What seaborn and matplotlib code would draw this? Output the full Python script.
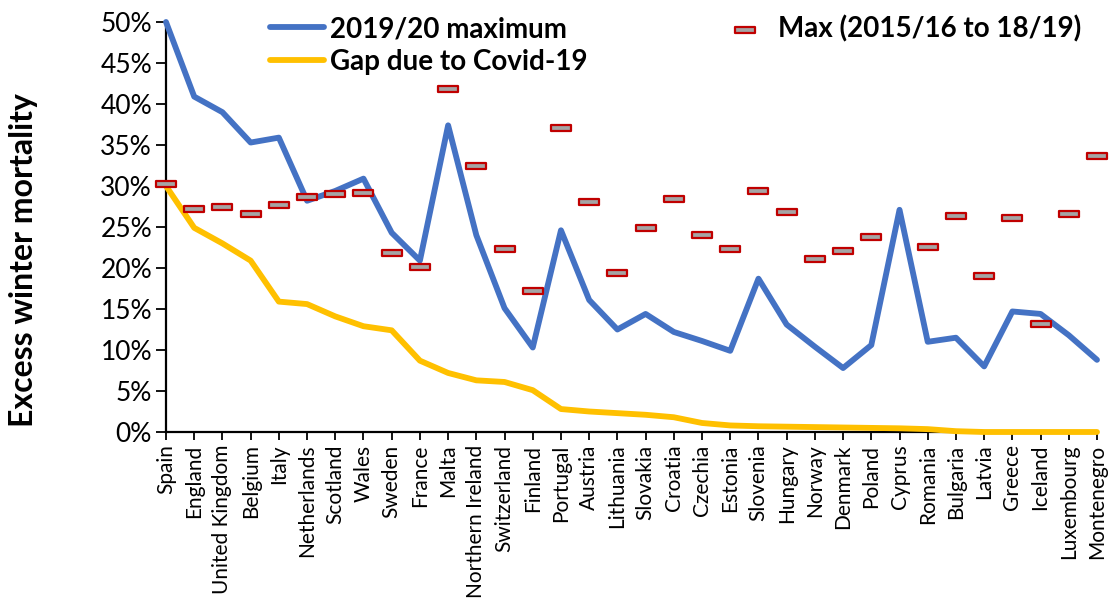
import numpy as np
import pandas as pd
import seaborn as sns
import matplotlib.pyplot as plt
from matplotlib.path import Path
from matplotlib.ticker import PercentFormatter

countries = ["Spain", "England", "United Kingdom", "Belgium", "Italy", "Netherlands",
             "Scotland", "Wales", "Sweden", "France", "Malta", "Northern Ireland",
             "Switzerland", "Finland", "Portugal", "Austria", "Lithuania", "Slovakia",
             "Croatia", "Czechia", "Estonia", "Slovenia", "Hungary", "Norway",
             "Denmark", "Poland", "Cyprus", "Romania", "Bulgaria", "Latvia",
             "Greece", "Iceland", "Luxembourg", "Montenegro"]

# 2019/20 maximum (%)
max_2019_20 = [50.0, 40.9, 39.0, 35.3, 35.9, 28.2, 29.4, 30.9, 24.3, 20.9, 37.4, 24.0,
               15.1, 10.3, 24.6, 16.1, 12.5, 14.4, 12.2, 11.1, 9.9, 18.7, 13.1, 10.4,
               7.8, 10.6, 27.1, 11.0, 11.5, 8.0, 14.7, 14.4, 11.8, 8.8]

# Gap due to Covid-19 (%)
covid_gap = [30.0, 24.9, 23.0, 20.9, 15.9, 15.6, 14.1, 12.9, 12.4, 8.7, 7.2, 6.3,
             6.1, 5.1, 2.8, 2.5, 2.3, 2.1, 1.8, 1.1, 0.8, 0.7, 0.65, 0.6,
             0.55, 0.5, 0.45, 0.35, 0.1, 0.0, 0.0, 0.0, 0.0, 0.0]

# Max (2015/16 to 18/19) (%), no value for Cyprus
max_prev = [30.3, 27.2, 27.5, 26.6, 27.7, 28.7, 29.0, 29.2, 21.8, 20.1, 41.8, 32.5,
            22.3, 17.2, 37.1, 28.1, 19.4, 24.9, 28.4, 24.0, 22.3, 29.4, 26.8, 21.1,
            22.1, 23.8, np.nan, 22.6, 26.4, 19.0, 26.1, 13.2, 26.6, 33.7]

df = pd.DataFrame({
    "pos": np.arange(len(countries)),
    "country": countries,
    "max_2019_20": np.array(max_2019_20) / 100,
    "covid_gap": np.array(covid_gap) / 100,
    "max_prev": np.array(max_prev) / 100,
})

sns.set_style("white")
plt.rcParams["font.family"] = ["Lato", "DejaVu Sans"]
plt.rcParams.update({"text.color": "black", "axes.labelcolor": "black",
                     "xtick.color": "black", "ytick.color": "black"})

fig = plt.figure(figsize=(11.12, 6.12), dpi=100)
ax = fig.add_axes([166 / 1112, 1 - 432 / 612, (1097 - 166) / 1112, 410 / 612])

blue = "#4472C4"
gold = "#FFC000"

sns.lineplot(data=df, x="pos", y="max_2019_20", ax=ax, color=blue, linewidth=4.2,
             sort=False, label="2019/20 maximum", clip_on=False, zorder=3)
sns.lineplot(data=df, x="pos", y="covid_gap", ax=ax, color=gold, linewidth=4.2,
             sort=False, label="Gap due to Covid-19", clip_on=False, zorder=3)

# flat rectangle marker (grey with red border)
rect = Path([(-1, -0.26), (1, -0.26), (1, 0.26), (-1, 0.26), (-1, -0.26)],
            [Path.MOVETO, Path.LINETO, Path.LINETO, Path.LINETO, Path.CLOSEPOLY])
sns.scatterplot(data=df, x="pos", y="max_prev", ax=ax, marker=rect, s=200,
                color="#A5A5A5", edgecolor="#C00000", linewidth=1.6,
                label="Max (2015/16 to 18/19)", zorder=4, clip_on=False)

ax.set_xlim(0, len(countries) - 1)
ax.set_ylim(0, 0.5)
ax.set_yticks(np.arange(0, 0.501, 0.05))
ax.yaxis.set_major_formatter(PercentFormatter(1.0, decimals=0))
ax.set_xticks(df["pos"])
ax.set_xticklabels(countries, rotation=90, fontsize=15)
ax.tick_params(axis="y", labelsize=19, length=7, width=1.3, direction="out", left=True, pad=3)
ax.tick_params(axis="x", length=6, width=1.3, direction="out", bottom=True, pad=3)

for side in ["top", "right"]:
    ax.spines[side].set_visible(False)
for side in ["left", "bottom"]:
    ax.spines[side].set_color("black")
    ax.spines[side].set_linewidth(1.6)

ax.set_xlabel("")
ax.set_ylabel("Excess winter mortality", fontsize=23, fontweight="bold")
ax.yaxis.set_label_coords(-0.137, 0.42)

handles, labels = ax.get_legend_handles_labels()
ax.get_legend().remove()
fig.legend(handles, labels, ncol=2, loc="upper left",
           bbox_to_anchor=(270 / 1112, 1 - 15 / 612), frameon=False,
           prop={"weight": "bold", "size": 20}, handlelength=1.95,
           handletextpad=0.2, columnspacing=4.7, labelspacing=0.25,
           borderpad=0, borderaxespad=0)

fig.savefig("out.png", dpi=100)
